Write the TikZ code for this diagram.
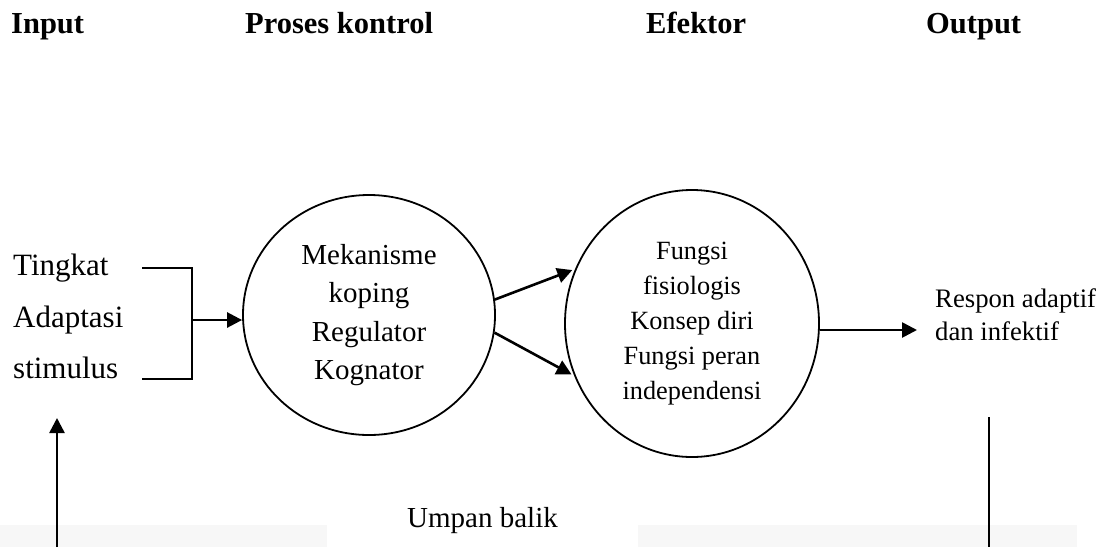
\documentclass[tikz,border=0pt]{standalone}
\usepackage{fontspec}
\setmainfont{Liberation Serif}
\usetikzlibrary{shapes.geometric,arrows.meta}

\begin{document}
\begin{tikzpicture}[x=1pt,y=-1pt]
    \tikzstyle{head} = [anchor=base west, inner sep=0pt, font=\fontsize{30.5}{36}\selectfont\bfseries]
    \tikzstyle{word} = [anchor=base west, inner sep=0pt, font=\fontsize{31}{37}\selectfont]
    \tikzstyle{proc} = [ellipse, draw, line width=1.8pt, inner sep=0pt, align=center]
    \tikzstyle{wire} = [line width=2pt]
    \tikzstyle{arr} = [line width=2.6pt, -{Triangle[length=15pt,width=15pt]}]
    \useasboundingbox (0,0) rectangle (1108,547);
    \fill[black!3] (0,525) rectangle (327,547);
    \fill[black!3] (638,525) rectangle (1077,547);
    \node[head] (hin) at (11,33) {Input};
    \node[head] (hpro) at (245,33) {Proses kontrol};
    \node[head] (hefk) at (646,33) {Efektor};
    \node[head] (hout) at (926,33) {Output};
    \foreach \yy/\txt/\nm in {275/Tingkat/tk, 327/Adaptasi/ad, 378/stimulus/st} {
        \node[word] (\nm) at (13,\yy) {\txt};
    }
    \node[proc, minimum width=252pt, minimum height=240pt, font=\fontsize{29}{38.5}\selectfont] (mek) at (369,315) {Mekanisme\\koping\\Regulator\\Kognator};
    \node[proc, minimum width=254pt, minimum height=267pt, font=\fontsize{26.3}{35}\selectfont] (efk) at (692,323.5) {Fungsi\\fisiologis\\Konsep diri\\Fungsi peran\\independensi};
    \node[anchor=west, inner sep=0pt, align=left, font=\fontsize{26.7}{33}\selectfont] (resp) at (935,314.5) {Respon adaptif\\dan infektif};
    \node[word, font=\fontsize{29}{35}\selectfont] (umpan) at (407,527) {Umpan balik};
    \coordinate (brtop) at (142,268);
    \coordinate (brmid) at (192,320);
    \coordinate (brbot) at (142,379);
    \draw[wire] (brtop) -| (brmid) |- (brbot);
    \draw[arr] (brmid) -- (brmid -| mek.west);
    \draw[arr, shorten >=3pt] (mek.7) -- (efk.155);
    \draw[arr, shorten >=3pt] (mek.-8) -- (efk.204);
    \coordinate (rtip) at (917,330);
    \draw[arr] (efk.east |- rtip) -- (rtip);
    \coordinate (fbin) at (57,547);
    \coordinate (fbtip) at (57,418);
    \draw[arr] (fbin) -- (fbtip);
    \coordinate (fbout) at (989,417);
    \coordinate (fbend) at (989,547);
    \draw[wire] (fbout) -- (fbend);
\end{tikzpicture}
\end{document}
